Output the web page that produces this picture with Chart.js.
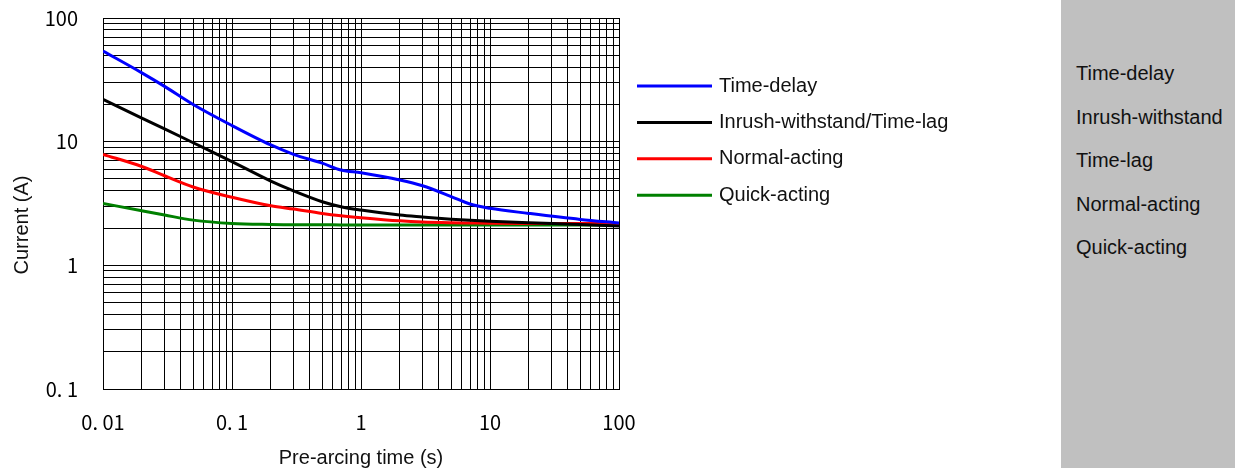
<!DOCTYPE html>
<html>
<head>
<meta charset="utf-8">
<script src="https://cdn.jsdelivr.net/npm/chart.js@4"></script>
<style>
  html, body { margin: 0; padding: 0; background: #fff; }
  #wrap { position: relative; width: 1235px; height: 468px; overflow: hidden; }
  #plot { position: absolute; left: 0; top: 0; }
  #side { position: absolute; left: 1061px; top: 0; width: 174px; height: 468px; background: #c0c0c0;
          font-family: "Liberation Sans", Arial, sans-serif; font-size: 20px; color: #111; }
  #side div { position: absolute; left: 15px; line-height: 24px; white-space: nowrap; }
</style>
</head>
<body>
<div id="wrap">
  <canvas id="plot" width="1061" height="468"></canvas>
  <div id="side"></div>
</div>
<script>
// pre-arcing time (s)
const times = [0.01, 0.02, 0.03, 0.05, 0.1, 0.2, 0.3, 0.5, 0.7, 1, 2, 3, 5, 7, 10, 20, 50, 100];

// current (A)
const timeDelay   = [54, 36, 28, 20, 13.5, 9.4, 7.9, 6.7, 5.9, 5.6, 4.9, 4.4, 3.6, 3.13, 2.89, 2.63, 2.35, 2.2];
const inrushLag   = [22, 15.5, 12.7, 9.8, 6.9, 4.8, 4.0, 3.27, 2.98, 2.8, 2.55, 2.46, 2.36, 2.31, 2.27, 2.21, 2.14, 2.08];
const normalAct   = [7.9, 6.3, 5.3, 4.3, 3.55, 3.03, 2.85, 2.63, 2.52, 2.43, 2.29, 2.24, 2.21, 2.2, 2.19, 2.18, 2.18, 2.18];
const quickAct    = [3.17, 2.76, 2.55, 2.32, 2.18, 2.14, 2.13, 2.13, 2.12, 2.12, 2.12, 2.12, 2.12, 2.12, 2.12, 2.12, 2.12, 2.12];

const seriesLabels = ['Time-delay', 'Inrush-withstand/Time-lag', 'Normal-acting', 'Quick-acting'];
const seriesColors = ['#0000ff', '#000000', '#ff0000', '#008000'];

const xMajor = [0.01, 0.1, 1, 10, 100];
const xMajorLabels = ['0. 01', '0. 1', '1', '10', '100'];
const yMajor = [0.1, 1, 10, 100];
const yMajorLabels = ['0. 1', '1', '10', '100'];
const minorSteps = [1, 2, 3, 4, 5, 6, 7, 8, 9];

const sideLabels = ['Time-delay', 'Inrush-withstand', 'Time-lag', 'Normal-acting', 'Quick-acting'];

const xTitle = 'Pre-arcing time (s)';
const yTitle = 'Current (A)';

const textFont = '"Liberation Sans", Arial, sans-serif';
const tickFont = '"Noto Sans CJK JP", "Noto Sans", sans-serif';

// side panel text
const side = document.getElementById('side');
sideLabels.forEach((t, i) => {
  const d = document.createElement('div');
  d.textContent = t;
  d.style.top = (61 + i * 43.5) + 'px';
  side.appendChild(d);
});

function gridValues(majors) {
  const out = [];
  majors.forEach((m, i) => {
    if (i === majors.length - 1) { out.push({ value: m }); return; }
    minorSteps.forEach(k => out.push({ value: m * k }));
  });
  return out;
}

function labelFor(v, majors, labels) {
  const i = majors.findIndex(m => Math.abs(m - v) / m < 1e-6);
  return i < 0 ? '' : labels[i];
}

const seriesValues = [timeDelay, inrushLag, normalAct, quickAct];
const datasets = seriesValues.map((vals, s) => ({
  label: seriesLabels[s],
  data: times.map((t, i) => ({ x: t, y: vals[i] })),
  borderColor: seriesColors[s],
  backgroundColor: seriesColors[s],
  borderWidth: 3,
  pointRadius: 0,
  cubicInterpolationMode: 'monotone',
  fill: false
}));

const sideLegend = {
  id: 'sideLegend',
  afterDraw(chart) {
    const { ctx, chartArea: a } = chart;
    ctx.save();
    ctx.font = '20px ' + textFont;
    ctx.textAlign = 'left';
    ctx.textBaseline = 'middle';
    chart.data.datasets.forEach((ds, i) => {
      const y = a.top + 68 + i * 36.4;
      ctx.strokeStyle = ds.borderColor;
      ctx.lineWidth = 3;
      ctx.beginPath();
      ctx.moveTo(a.right + 18, y);
      ctx.lineTo(a.right + 93, y);
      ctx.stroke();
      ctx.fillStyle = '#111';
      ctx.fillText(ds.label, a.right + 100, y);
    });
    ctx.restore();
  }
};

const axisTitles = {
  id: 'axisTitles',
  afterDraw(chart) {
    const { ctx, chartArea: a } = chart;
    ctx.save();
    ctx.fillStyle = '#111';
    ctx.font = '20px ' + textFont;
    ctx.textAlign = 'center';
    ctx.textBaseline = 'middle';
    ctx.fillText(xTitle, (a.left + a.right) / 2, 458);
    ctx.translate(22, 225);
    ctx.rotate(-Math.PI / 2);
    ctx.fillText(yTitle, 0, 0);
    ctx.restore();
  }
};

new Chart(document.getElementById('plot'), {
  type: 'line',
  data: { datasets },
  options: {
    responsive: false,
    animation: false,
    layout: { padding: { top: 18, right: 442, left: 0, bottom: 0 } },
    plugins: {
      legend: { display: false },
      tooltip: { enabled: false }
    },
    scales: {
      x: {
        type: 'logarithmic',
        min: 0.01,
        max: 100,
        afterBuildTicks: axis => { axis.ticks = gridValues(xMajor); },
        afterFit: axis => {
          axis.height = 79;
          axis.paddingLeft = 0;
          axis.paddingRight = 0;
        },
        grid: { color: '#000', lineWidth: 1, drawTicks: false },
        border: { color: '#000', width: 1 },
        ticks: {
          autoSkip: false,
          maxRotation: 0,
          padding: 21,
          color: '#000',
          font: { family: tickFont, size: 20 },
          callback: v => labelFor(v, xMajor, xMajorLabels)
        }
      },
      y: {
        type: 'logarithmic',
        min: 0.1,
        max: 100,
        afterBuildTicks: axis => { axis.ticks = gridValues(yMajor); },
        afterFit: axis => {
          axis.width = 103;
          axis.paddingTop = 0;
          axis.paddingBottom = 0;
        },
        grid: { color: '#000', lineWidth: 1, drawTicks: false },
        border: { color: '#000', width: 1 },
        ticks: {
          autoSkip: false,
          padding: 25,
          color: '#000',
          font: { family: tickFont, size: 20 },
          callback: v => labelFor(v, yMajor, yMajorLabels)
        }
      }
    }
  },
  plugins: [sideLegend, axisTitles]
});
</script>
</body>
</html>
